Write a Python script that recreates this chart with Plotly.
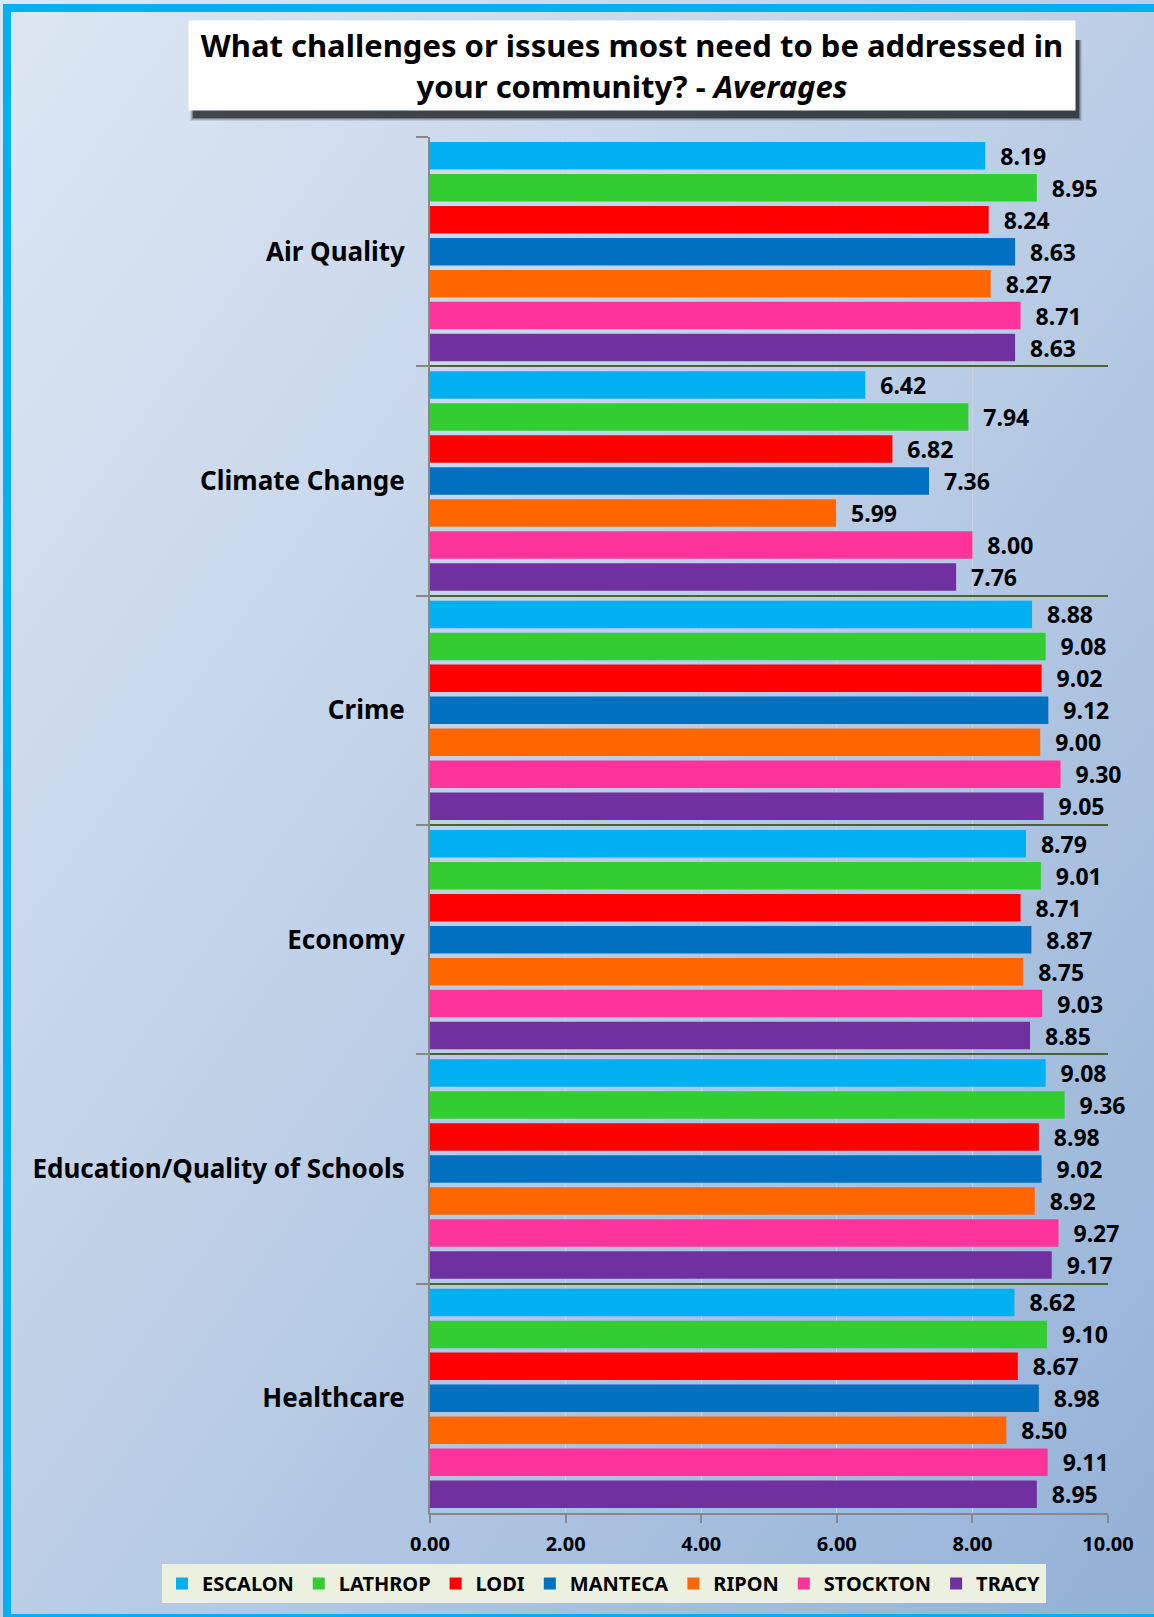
import base64
import plotly.graph_objects as go

categories = ["Air Quality", "Climate Change", "Crime", "Economy",
              "Education/Quality of Schools", "Healthcare"]
cities = ["ESCALON", "LATHROP", "LODI", "MANTECA", "RIPON", "STOCKTON", "TRACY"]
escalon = [8.19, 6.42, 8.88, 8.79, 9.08, 8.62]
lathrop = [8.95, 7.94, 9.08, 9.01, 9.36, 9.10]
lodi = [8.24, 6.82, 9.02, 8.71, 8.98, 8.67]
manteca = [8.63, 7.36, 9.12, 8.87, 9.02, 8.98]
ripon = [8.27, 5.99, 9.00, 8.75, 8.92, 8.50]
stockton = [8.71, 8.00, 9.30, 9.03, 9.27, 9.11]
tracy = [8.63, 7.76, 9.05, 8.85, 9.17, 8.95]
series = [escalon, lathrop, lodi, manteca, ripon, stockton, tracy]
colors = ["#00B0F0", "#33CC33", "#FF0000", "#0070C0", "#FF6600", "#FF3399", "#7030A0"]
x_ticks = [0, 2, 4, 6, 8, 10]

FONT = "Noto Sans"
W, H = 1154, 1617
L, R, T, B = 430, 46, 137, 104
pw, ph = W - L - R, H - T - B

def px(x):
    return (x - L) / pw

def py(y):
    return (H - B - y) / ph

fig = go.Figure()
for name, vals, col in zip(cities, series, colors):
    fig.add_trace(go.Bar(
        y=categories, x=vals, name=name, orientation="h",
        marker=dict(color=col, line=dict(width=0)),
        text=vals, texttemplate="  <b>%{x:.2f}</b>", textposition="outside",
        textfont=dict(family=FONT, size=23, color="black", weight="bold"),
        cliponaxis=False, constraintext="none",
    ))

svg = ('<svg xmlns="http://www.w3.org/2000/svg" width="1154" height="1617">'
       '<defs><linearGradient id="g" x1="0" y1="0" x2="1" y2="1">'
       '<stop offset="0" stop-color="#DDE7F3"/>'
       '<stop offset="0.5" stop-color="#BCCEE6"/>'
       '<stop offset="1" stop-color="#93B1D6"/></linearGradient></defs>'
       '<rect width="1154" height="1617" fill="url(#g)"/></svg>')
src = "data:image/svg+xml;base64," + base64.b64encode(svg.encode()).decode()

shapes = []
# title shadow (soft)
for i, op in enumerate([0.10, 0.15, 0.25, 0.45]):
    d = 8 - 2 * i
    shapes.append(dict(type="rect", xref="paper", yref="paper",
                       x0=px(194 - d / 2), x1=px(1078 + d / 2),
                       y0=py(117 + d / 2), y1=py(40),
                       fillcolor=f"rgba(0,0,0,{op})", line=dict(width=0), layer="above"))
# cyan frame
shapes.append(dict(type="rect", xref="paper", yref="paper", x0=px(3), x1=px(11),
                   y0=py(H), y1=py(4), fillcolor="#00B0F0", line=dict(width=0)))
shapes.append(dict(type="rect", xref="paper", yref="paper", x0=px(3), x1=px(W),
                   y0=py(12), y1=py(4), fillcolor="#00B0F0", line=dict(width=0)))
shapes.append(dict(type="rect", xref="paper", yref="paper", x0=px(3), x1=px(W),
                   y0=py(H), y1=py(1614), fillcolor="#00B0F0", line=dict(width=0)))

fig.update_layout(
    width=W, height=H,
    margin=dict(l=L, r=R, t=T, b=B, autoexpand=False),
    paper_bgcolor="#C3D4EA",
    plot_bgcolor="rgba(0,0,0,0)",
    barmode="group", bargap=0.024, bargroupgap=0.14,
    images=[dict(source=src, xref="paper", yref="paper",
                 x=px(0), y=py(0), sizex=W / pw, sizey=H / ph,
                 xanchor="left", yanchor="top", sizing="stretch", layer="below")],
    shapes=shapes,
    annotations=[dict(
        xref="paper", yref="paper", x=px(632), y=py(65.5),
        xanchor="center", yanchor="middle",
        text="<b>What challenges or issues most need to be addressed in<br>your community? - <i>Averages</i></b>",
        showarrow=False, align="center",
        font=dict(family=FONT, size=31, color="black"),
        bgcolor="white", width=884, height=87,
    )],
    xaxis=dict(range=[0, 10], tickvals=x_ticks, tickformat=".2f",
               showgrid=True, gridcolor="rgba(200,212,228,0.9)", gridwidth=1,
               zeroline=False, showline=True, linecolor="#888888", linewidth=2,
               ticks="outside", ticklen=8, tickcolor="#888888", tickwidth=2,
               ticklabelstandoff=4, automargin=False,
               tickfont=dict(family=FONT, size=20, color="black", weight="bold")),
    yaxis=dict(autorange="reversed", tickson="boundaries",
               showgrid=True, gridcolor="#4F6228", gridwidth=2,
               showline=True, linecolor="#888888", linewidth=2,
               ticks="outside", ticklen=12, tickcolor="#888888", tickwidth=2,
               ticklabelstandoff=18, automargin=False,
               tickfont=dict(family=FONT, size=26, color="black", weight="bold")),
    legend=dict(orientation="h", x=px(162), y=py(1564), xanchor="left", yanchor="top",
                bgcolor="#EBF1DE", font=dict(family=FONT, size=20, color="black", weight="bold"),
                traceorder="normal", itemclick=False),
    showlegend=True,
)

fig.write_html("out.html", config={"displayModeBar": False},
               post_script="document.body.style.margin='0';"
                           "document.documentElement.style.overflow='hidden';")
